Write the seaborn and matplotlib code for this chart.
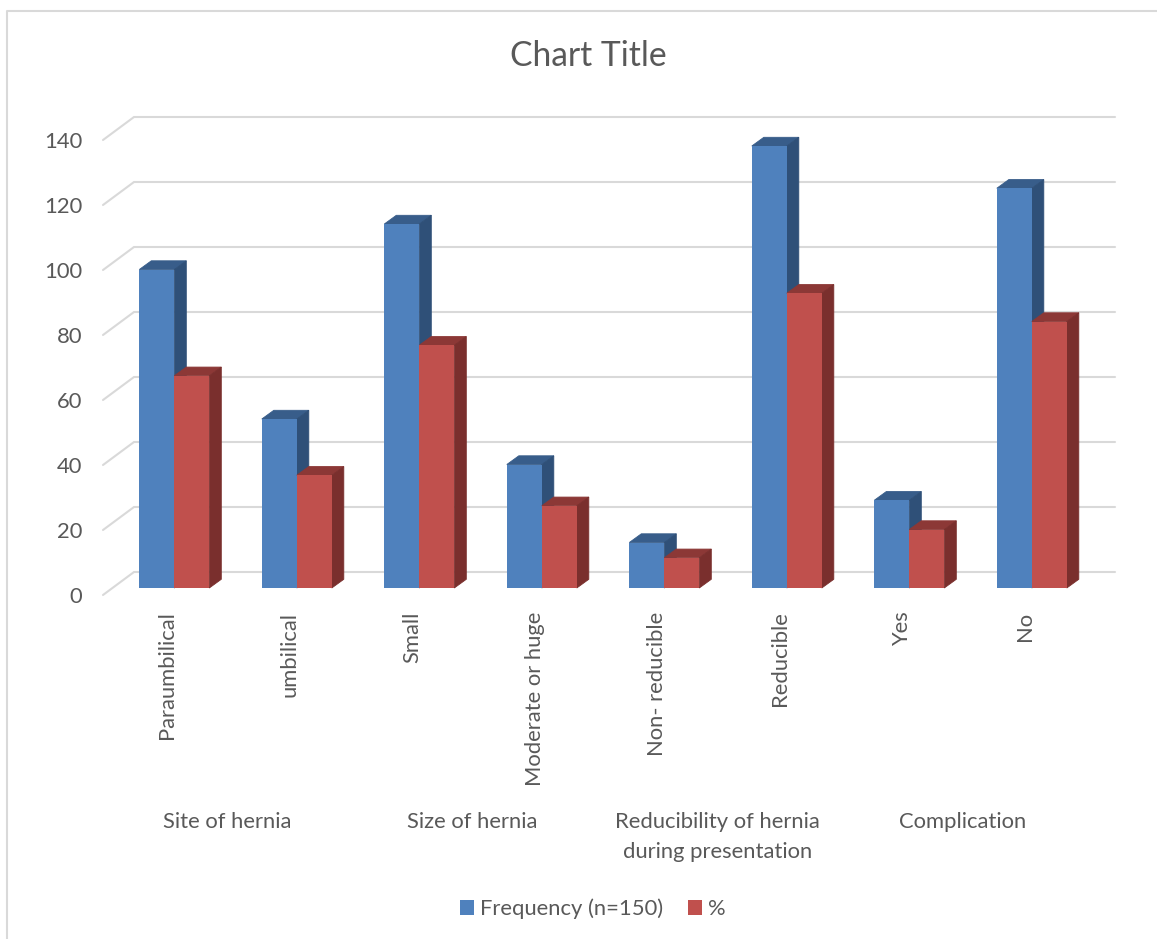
import matplotlib
matplotlib.use("Agg")
import matplotlib.pyplot as plt
from matplotlib.lines import Line2D
from matplotlib.patches import Polygon, Patch
from matplotlib.transforms import Affine2D, IdentityTransform
import numpy as np
import pandas as pd
import seaborn as sns

categories = ["Paraumbilical", "umbilical", "Small", "Moderate or huge",
              "Non- reducible", "Reducible", "Yes", "No"]
frequency = [98, 52, 112, 38, 14, 136, 27, 123]
percent = [65.3, 34.7, 74.7, 25.3, 9.3, 90.7, 18, 82]
groups = ["Site of hernia", "Size of hernia",
          "Reducibility of hernia\nduring presentation", "Complication"]
group_members = [(0, 1), (2, 3), (4, 5), (6, 7)]
series_names = ["Frequency (n=150)", "%"]
y_ticks = [0, 20, 40, 60, 80, 100, 120, 140]

W, H = 1157, 939
TXT = "#595959"
GRID = "#D9D9D9"
FRONT = ["#4F81BD", "#C0504D"]
TOP = ["#385D8A", "#8C3836"]
SIDE = ["#2F5078", "#7A2F2D"]
FS = 15.8

sns.set_theme(style="white")
plt.rcParams["font.family"] = ["Lato", "DejaVu Sans"]

fig = plt.figure(figsize=(W / 100, H / 100), dpi=100, facecolor="white")
PX_L, PX_R, PX_BASE, PX_TOP = 113.05, 1093.05, 588.0, 133.0
ax = fig.add_axes([PX_L / W, 1 - PX_BASE / H, (PX_R - PX_L) / W, (PX_BASE - PX_TOP) / H])
ax.patch.set_alpha(0)

df = pd.DataFrame({
    "category": categories * 2,
    "value": frequency + percent,
    "series": [series_names[0]] * len(categories) + [series_names[1]] * len(categories),
})
sns.barplot(data=df, x="category", y="value", hue="series", order=categories,
            hue_order=series_names, palette=FRONT, saturation=1, width=0.5714,
            gap=0, dodge=True, legend=False, linewidth=0, ax=ax)
ax.set_xlim(-0.5, len(categories) - 0.5)
ax.set_ylim(0, 140)
ax.set_xlabel("")
ax.set_ylabel("")
sns.despine(ax=ax, left=True, bottom=True)

DEPTH_X, DEPTH_Y = 12.0, 8.7      # bar depth, px
BACK_DY = 16.0                    # back wall above bar plane, px
FRONT_DY = 7.0                    # floor front below bar plane, px
GRID_L, GRID_R, DIAG_L = 134.0, 1115.0, 103.0
ident = IdentityTransform()


def disp(x, y):
    return ax.transData.transform((x, y))


# walls: back gridlines with their left diagonal
for v in y_ticks:
    _, yd = disp(0, v)
    ax.add_line(Line2D([DIAG_L, GRID_L, GRID_R],
                       [yd - FRONT_DY, yd + BACK_DY, yd + BACK_DY],
                       transform=ident, color=GRID, lw=1.5, clip_on=False,
                       zorder=0.5, solid_joinstyle="miter"))

# extruded bar faces
for s, cont in enumerate(ax.containers):
    for bar in cont:
        x0, w, h = bar.get_x(), bar.get_width(), bar.get_height()
        bar.set_zorder(2 + s + 0.1)
        (xa, yb), (xb, yt) = disp(x0, 0), disp(x0 + w, h)
        ax.add_patch(Polygon([(xa, yt), (xb, yt), (xb + DEPTH_X, yt + DEPTH_Y),
                              (xa + DEPTH_X, yt + DEPTH_Y)], closed=True,
                             transform=ident, fc=TOP[s], ec=TOP[s], lw=0.6,
                             clip_on=False, zorder=2 + s))
        ax.add_patch(Polygon([(xb, yb), (xb, yt), (xb + DEPTH_X, yt + DEPTH_Y),
                              (xb + DEPTH_X, yb + DEPTH_Y)], closed=True,
                             transform=ident, fc=SIDE[s], ec=SIDE[s], lw=0.6,
                             clip_on=False, zorder=2 + s))

# tick labels
ax.set_yticks(y_ticks)
ax.set_yticklabels([str(v) for v in y_ticks])
ax.set_xticks(range(len(categories)))
ax.set_xticklabels(categories, rotation=90)
ax.tick_params(axis="both", length=0, labelsize=FS, labelcolor=TXT)
ax.tick_params(axis="y", pad=22)
ax.tick_params(axis="x", pad=17)
for t in ax.yaxis.get_major_ticks():
    t.label1.set_transform(t.label1.get_transform() + Affine2D().translate(0, -FRONT_DY))
for t in ax.xaxis.get_major_ticks():
    t.label1.set_transform(t.label1.get_transform() + Affine2D().translate(-FRONT_DY, 0))

# multi-level group labels
for name, members in zip(groups, group_members):
    xd, _ = disp(np.mean(members), 0)
    fig.text((xd - 8) / W, 1 - 812 / H, name, ha="center", va="top",
             color=TXT, fontsize=FS, linespacing=1.6)

fig.text(588 / W, 1 - 56 / H, "Chart Title", ha="center", va="center",
         color=TXT, fontsize=24.2)

handles = [Patch(facecolor=c, edgecolor="none", label=n) for c, n in zip(FRONT, series_names)]
fig.legend(handles=handles, loc="center", bbox_to_anchor=(593 / W, 1 - 909 / H), ncol=2,
           frameon=False, fontsize=FS, labelcolor=TXT, handlelength=0.64,
           handleheight=0.64, handletextpad=0.27, columnspacing=1.14)

# chart-area border: only the top and left edges are in frame
fig.add_artist(Line2D([7 / W, 7 / W, 1], [0, 1 - 11 / H, 1 - 11 / H],
                      transform=fig.transFigure, color=GRID, lw=1.5))

fig.savefig("out.png", dpi=100)
